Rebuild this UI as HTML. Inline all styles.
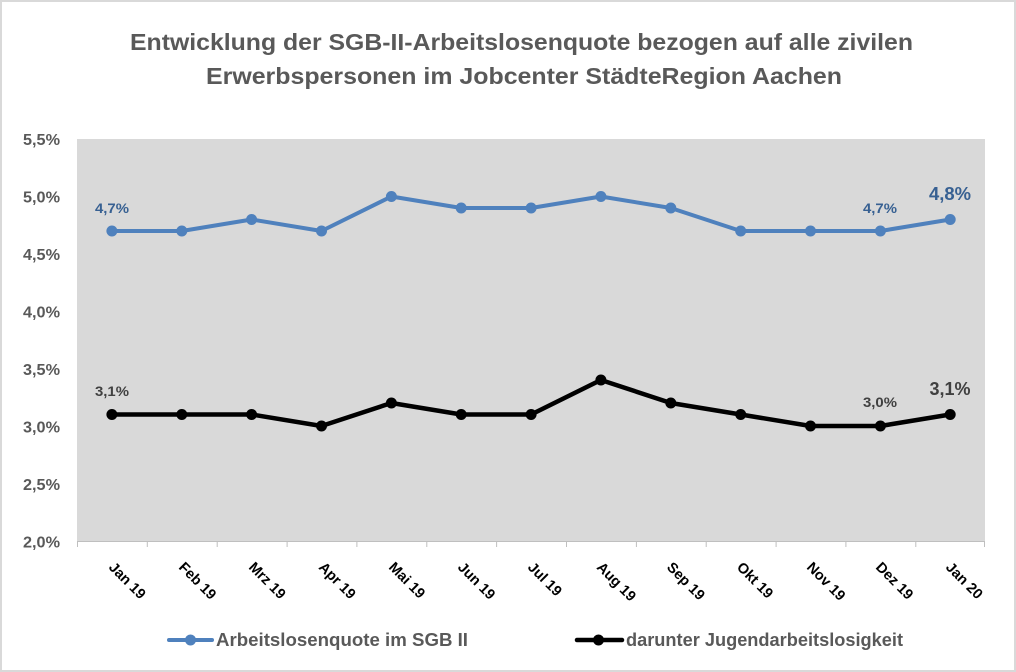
<!DOCTYPE html>
<html><head><meta charset="utf-8"><style>
html,body{margin:0;padding:0;background:#fff;}
svg{display:block;}
text{font-family:"Liberation Sans",sans-serif;font-weight:bold;}
</style></head><body>
<svg width="1016" height="672" viewBox="0 0 1016 672" xmlns="http://www.w3.org/2000/svg">
<rect x="0" y="0" width="1016" height="672" fill="#fff"/>
<rect x="1" y="1" width="1014" height="670" fill="none" stroke="#d9d9d9" stroke-width="2"/>
<!-- title -->
<text x="521.5" y="50" font-size="23" fill="#595959" text-anchor="middle" textLength="783" lengthAdjust="spacingAndGlyphs">Entwicklung der SGB-II-Arbeitslosenquote bezogen auf alle zivilen</text>
<text x="524" y="84" font-size="23" fill="#595959" text-anchor="middle" textLength="636" lengthAdjust="spacingAndGlyphs">Erwerbspersonen im Jobcenter StädteRegion Aachen</text>
<!-- plot area -->
<rect x="77" y="139" width="908" height="402.5" fill="#d9d9d9"/>
<!-- axis + ticks -->
<g stroke="#bfbfbf" stroke-width="1">
<line x1="77" y1="541.5" x2="985" y2="541.5"/>
<line x1="77.5" y1="541.5" x2="77.5" y2="547"/>
<line x1="147.3" y1="541.5" x2="147.3" y2="547"/>
<line x1="217.2" y1="541.5" x2="217.2" y2="547"/>
<line x1="287.1" y1="541.5" x2="287.1" y2="547"/>
<line x1="356.9" y1="541.5" x2="356.9" y2="547"/>
<line x1="426.8" y1="541.5" x2="426.8" y2="547"/>
<line x1="496.6" y1="541.5" x2="496.6" y2="547"/>
<line x1="566.5" y1="541.5" x2="566.5" y2="547"/>
<line x1="636.4" y1="541.5" x2="636.4" y2="547"/>
<line x1="706.2" y1="541.5" x2="706.2" y2="547"/>
<line x1="776.1" y1="541.5" x2="776.1" y2="547"/>
<line x1="845.9" y1="541.5" x2="845.9" y2="547"/>
<line x1="915.8" y1="541.5" x2="915.8" y2="547"/>
<line x1="984.5" y1="541.5" x2="984.5" y2="547"/>
</g>
<!-- y labels -->
<g font-size="16" fill="#595959" text-anchor="end">
<text x="60" y="145" textLength="37" lengthAdjust="spacingAndGlyphs">5,5%</text>
<text x="60" y="202.5" textLength="37" lengthAdjust="spacingAndGlyphs">5,0%</text>
<text x="60" y="260" textLength="37" lengthAdjust="spacingAndGlyphs">4,5%</text>
<text x="60" y="317.5" textLength="37" lengthAdjust="spacingAndGlyphs">4,0%</text>
<text x="60" y="375" textLength="37" lengthAdjust="spacingAndGlyphs">3,5%</text>
<text x="60" y="432.5" textLength="37" lengthAdjust="spacingAndGlyphs">3,0%</text>
<text x="60" y="490" textLength="37" lengthAdjust="spacingAndGlyphs">2,5%</text>
<text x="60" y="547.5" textLength="37" lengthAdjust="spacingAndGlyphs">2,0%</text>
</g>
<!-- x labels -->
<g font-size="14.5" fill="#000">
<text transform="translate(108,568) rotate(45)">Jan 19</text>
<text transform="translate(178,568) rotate(45)">Feb 19</text>
<text transform="translate(248,568) rotate(45)">Mrz 19</text>
<text transform="translate(318,568) rotate(45)">Apr 19</text>
<text transform="translate(388,568) rotate(45)">Mai 19</text>
<text transform="translate(457,568) rotate(45)">Jun 19</text>
<text transform="translate(527,568) rotate(45)">Jul 19</text>
<text transform="translate(596,568) rotate(45)">Aug 19</text>
<text transform="translate(666,568) rotate(45)">Sep 19</text>
<text transform="translate(736,568) rotate(45)">Okt 19</text>
<text transform="translate(806,568) rotate(45)">Nov 19</text>
<text transform="translate(875,568) rotate(45)">Dez 19</text>
<text transform="translate(945,568) rotate(45)">Jan 20</text>
</g>
<!-- blue series -->
<polyline fill="none" stroke="#4f81bd" stroke-width="4" stroke-linejoin="round"
points="111.9,231 181.8,231 251.6,219.5 321.5,231 391.4,196.5 461.2,208 531.1,208 600.9,196.5 670.8,208 740.7,231 810.5,231 880.4,231 950.2,219.5"/>
<g fill="#4f81bd">
<circle cx="111.9" cy="231" r="5.5"/><circle cx="181.8" cy="231" r="5.5"/><circle cx="251.6" cy="219.5" r="5.5"/>
<circle cx="321.5" cy="231" r="5.5"/><circle cx="391.4" cy="196.5" r="5.5"/><circle cx="461.2" cy="208" r="5.5"/>
<circle cx="531.1" cy="208" r="5.5"/><circle cx="600.9" cy="196.5" r="5.5"/><circle cx="670.8" cy="208" r="5.5"/>
<circle cx="740.7" cy="231" r="5.5"/><circle cx="810.5" cy="231" r="5.5"/><circle cx="880.4" cy="231" r="5.5"/>
<circle cx="950.2" cy="219.5" r="5.5"/>
</g>
<!-- black series -->
<polyline fill="none" stroke="#000" stroke-width="4.5" stroke-linejoin="round"
points="111.9,414.5 181.8,414.5 251.6,414.5 321.5,426 391.4,403 461.2,414.5 531.1,414.5 600.9,380 670.8,403 740.7,414.5 810.5,426 880.4,426 950.2,414.5"/>
<g fill="#000">
<circle cx="111.9" cy="414.5" r="5.5"/><circle cx="181.8" cy="414.5" r="5.5"/><circle cx="251.6" cy="414.5" r="5.5"/>
<circle cx="321.5" cy="426" r="5.5"/><circle cx="391.4" cy="403" r="5.5"/><circle cx="461.2" cy="414.5" r="5.5"/>
<circle cx="531.1" cy="414.5" r="5.5"/><circle cx="600.9" cy="380" r="5.5"/><circle cx="670.8" cy="403" r="5.5"/>
<circle cx="740.7" cy="414.5" r="5.5"/><circle cx="810.5" cy="426" r="5.5"/><circle cx="880.4" cy="426" r="5.5"/>
<circle cx="950.2" cy="414.5" r="5.5"/>
</g>
<!-- data labels -->
<g fill="#376092" text-anchor="middle">
<text x="112" y="213" font-size="14" textLength="34" lengthAdjust="spacingAndGlyphs">4,7%</text>
<text x="880" y="213" font-size="14" textLength="34" lengthAdjust="spacingAndGlyphs">4,7%</text>
<text x="950" y="200" font-size="18" textLength="42" lengthAdjust="spacingAndGlyphs">4,8%</text>
</g>
<g fill="#404040" text-anchor="middle">
<text x="112" y="396" font-size="14" textLength="34" lengthAdjust="spacingAndGlyphs">3,1%</text>
<text x="880" y="407" font-size="14" textLength="34" lengthAdjust="spacingAndGlyphs">3,0%</text>
<text x="950" y="395" font-size="18" textLength="41" lengthAdjust="spacingAndGlyphs">3,1%</text>
</g>
<!-- legend -->
<line x1="169" y1="640" x2="212" y2="640" stroke="#4f81bd" stroke-width="4" stroke-linecap="round"/>
<circle cx="190.5" cy="640" r="5.5" fill="#4f81bd"/>
<text x="216" y="646" font-size="18" fill="#595959" textLength="252" lengthAdjust="spacingAndGlyphs">Arbeitslosenquote im SGB II</text>
<line x1="577" y1="640" x2="622" y2="640" stroke="#000" stroke-width="4.5" stroke-linecap="round"/>
<circle cx="598.5" cy="640" r="5.5" fill="#000"/>
<text x="626" y="646" font-size="18" fill="#595959" textLength="277" lengthAdjust="spacingAndGlyphs">darunter Jugendarbeitslosigkeit</text>
</svg>
</body></html>
